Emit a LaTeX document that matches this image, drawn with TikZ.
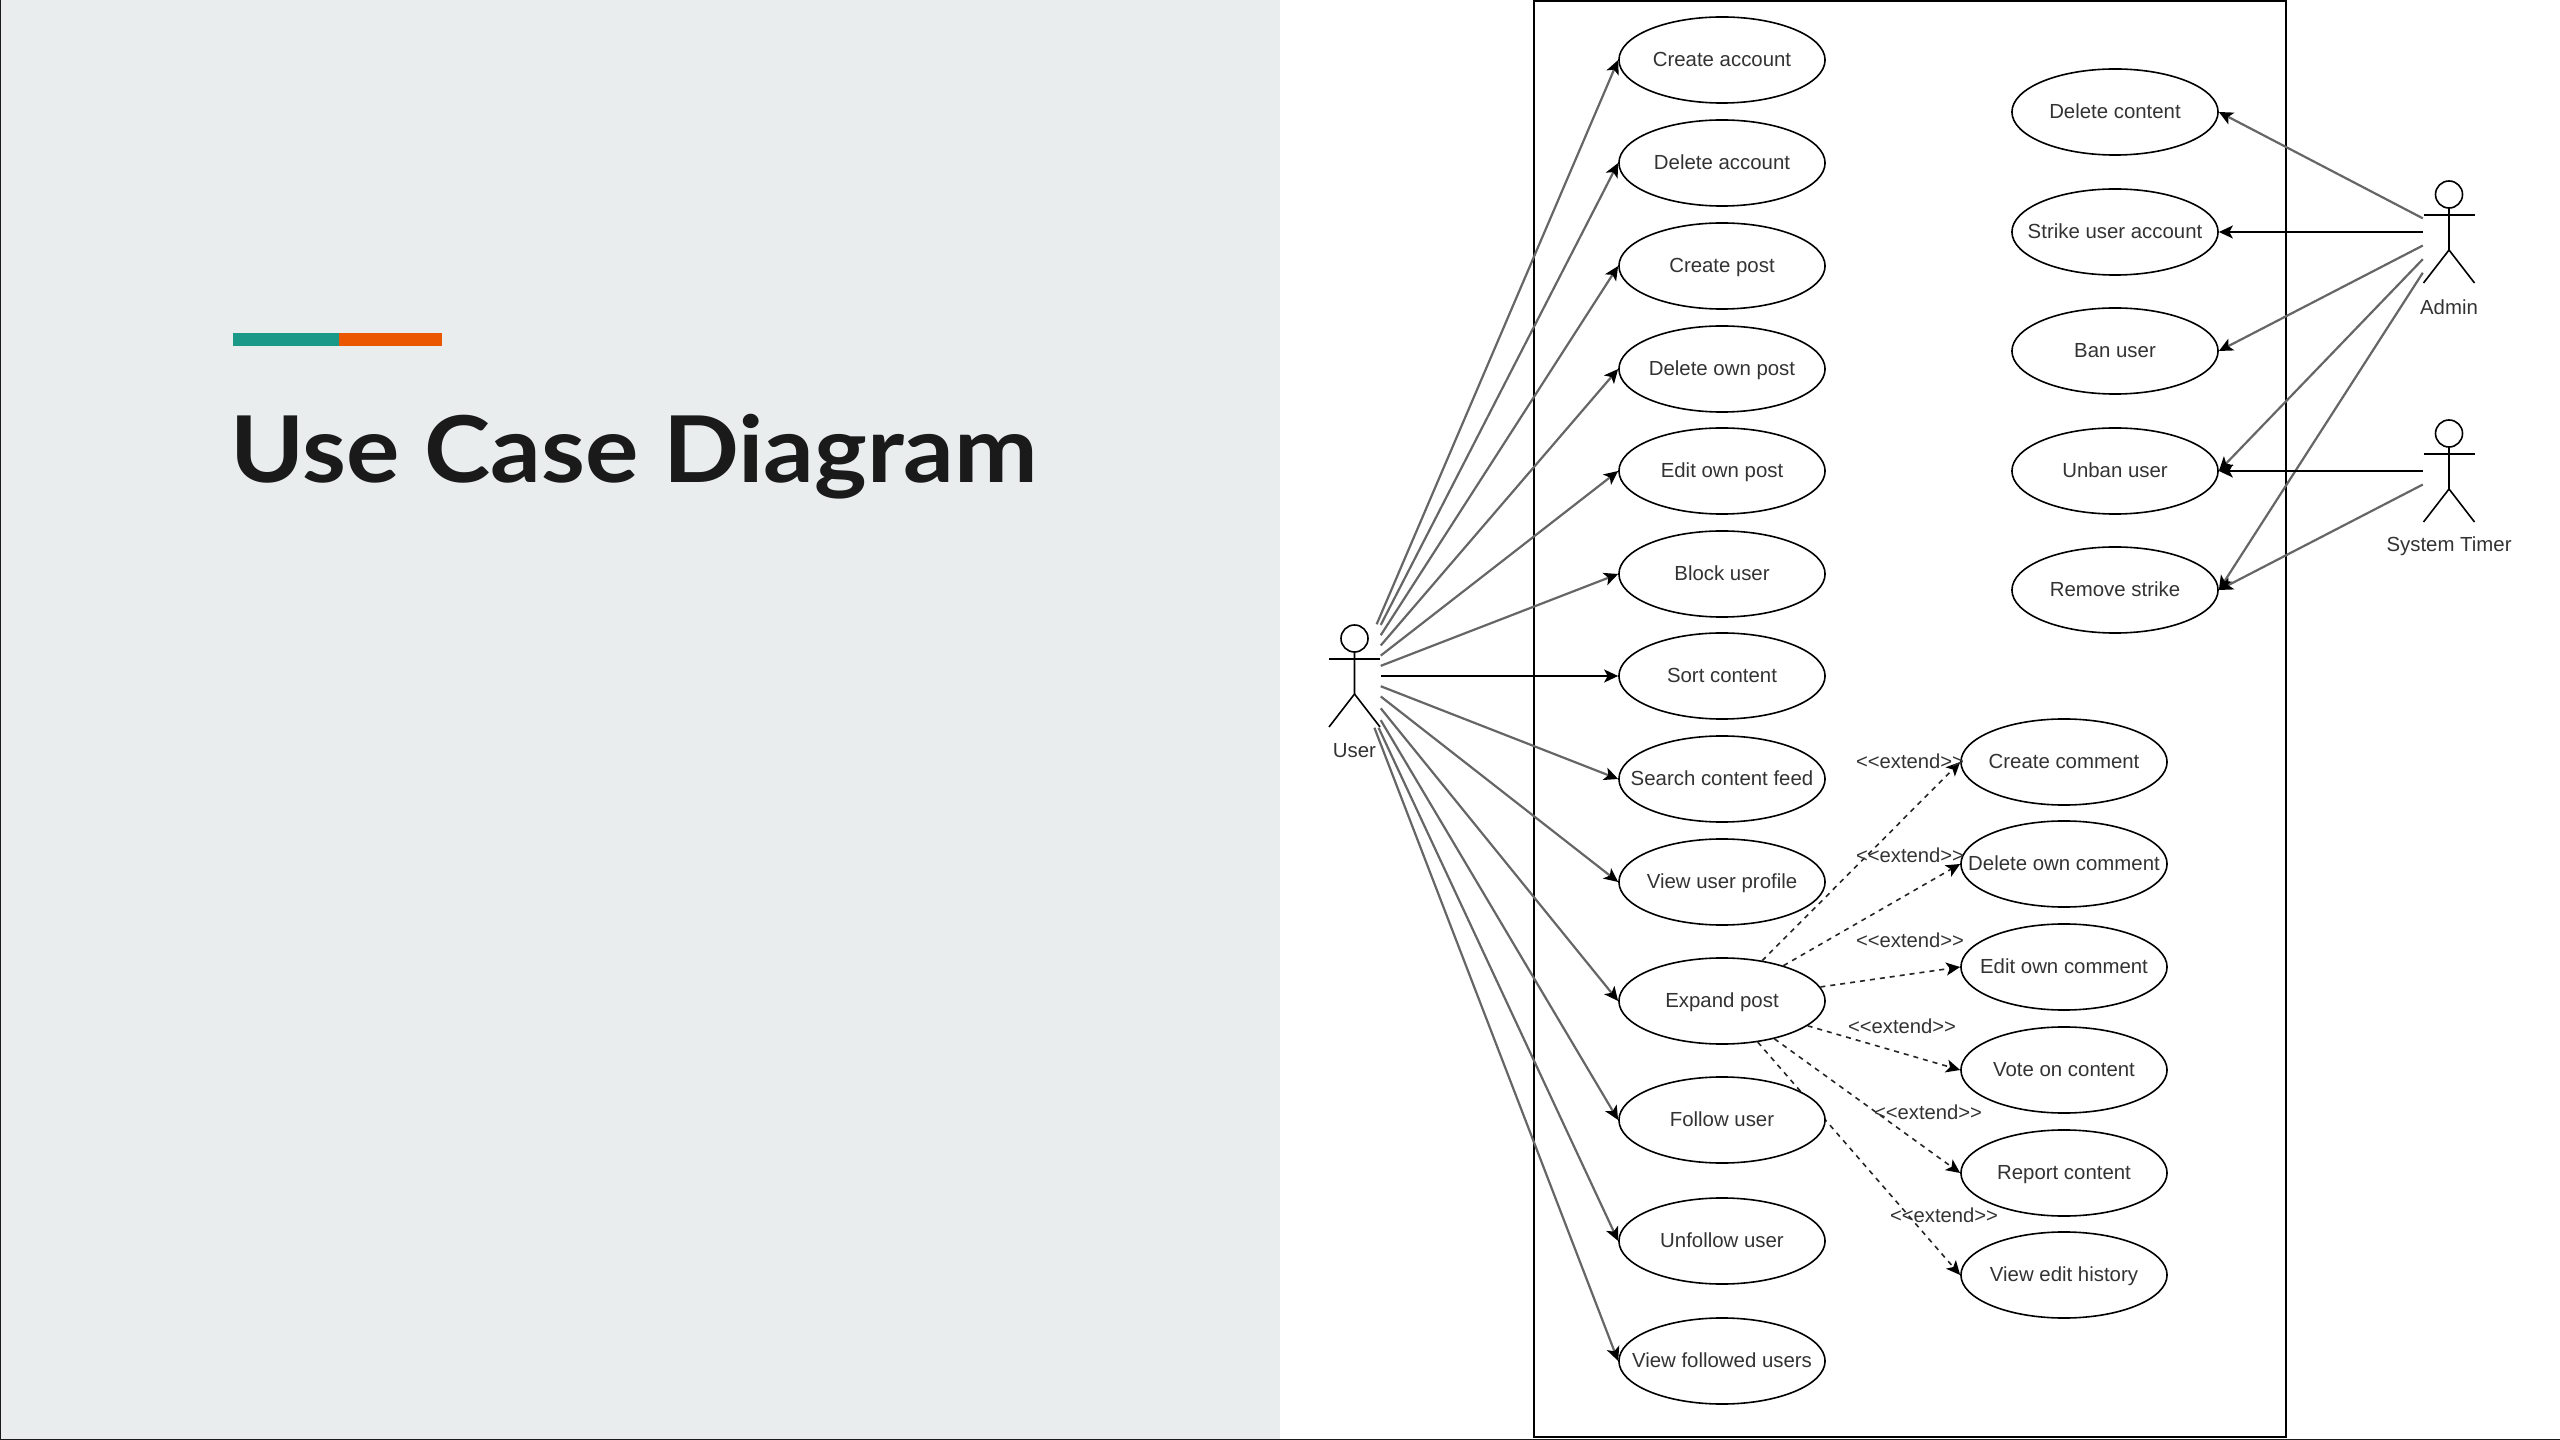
\documentclass[tikz,border=0pt]{standalone}
\usepackage{fontspec}
\setmainfont{Liberation Sans}
\newfontfamily\titlefont[FakeStretch=1.085]{Lato}
\usetikzlibrary{arrows.meta,shapes.geometric}
\definecolor{panelgray}{HTML}{E9EDEE}
\definecolor{barteal}{HTML}{1A9988}
\definecolor{barorange}{HTML}{EB5600}
\definecolor{titleink}{HTML}{1A1A1A}
\definecolor{textink}{HTML}{333333}
\newcommand{\extendword}{<{}<extend>{}>}
\tikzset{
	usecase/.style={draw, fill=white, ellipse, line width=0.016cm, minimum width=2.06cm, minimum height=0.86cm, inner xsep=-0.3cm, inner ysep=0pt, text height=4.64pt, text depth=1.04pt, font=\fontsize{5.8pt}{7pt}\selectfont, text=textink},
	actorbox/.style={minimum width=0.51cm, minimum height=1.02cm, inner sep=0pt},
	actortext/.style={inner sep=0pt, font=\fontsize{5.8pt}{7pt}\selectfont, text=textink},
	extendtext/.style={inner sep=0pt, font=\fontsize{5.75pt}{7pt}\selectfont, text=textink},
	assocflat/.style={line width=0.016cm, -{Stealth[length=0.14cm,width=0.13cm,inset=0.035cm,color=black]}},
	assoc/.style={assocflat, line width=0.022cm, draw=black!60},
	extendline/.style={assocflat, draw=black!85, dash pattern=on 0.05cm off 0.05cm},
}
\newcommand{\stickactor}[4]{%
	\begin{scope}[shift={(#2,#3)}]
		\node[actorbox] (#1) at (0,0) {};
		\draw[line width=0.016cm] (0,-37.5) circle (0.135cm);
		\draw[line width=0.016cm] (-25.5,-17) -- ++(51,0);
		\draw[line width=0.016cm] (0,-24) -- (0,18) -- (-25.5,51);
		\draw[line width=0.016cm] (0,18) -- (25.5,51);
		\node[actortext] (#1text) at (0,75) {#4};
	\end{scope}
}
\begin{document}
\begin{tikzpicture}[x=0.01cm,y=-0.01cm]
	\useasboundingbox (0,0) rectangle (2560,1440);
	% panel izquierdo
	\fill[panelgray] (0,0) rectangle (1280,1440);
	\draw[line width=0.012cm, titleink] (0.6,0) -- (0.6,1439.4) -- (2560,1439.4);
	\fill[barteal] (233,333) rectangle (339,346);
	\fill[barorange] (339,333) rectangle (442,346);
	\node[anchor=base west, inner sep=0pt, text=titleink, font=\titlefont\bfseries\fontsize{26.2pt}{30pt}\selectfont] (title) at (230,483) {Use Case Diagram};
	% limite del sistema
	\draw[line width=0.016cm] (1534,1) rectangle (2286,1437);
	% casos de uso del usuario
	\node[usecase] (createacc) at (1722,60) {Create account};
	\node[usecase] (deleteacc) at (1722,163) {Delete account};
	\node[usecase] (createpost) at (1722,266) {Create post};
	\node[usecase] (deletepost) at (1722,369) {Delete own post};
	\node[usecase] (editpost) at (1722,471) {Edit own post};
	\node[usecase] (blockuser) at (1722,574) {Block user};
	\node[usecase] (sortcontent) at (1722,676) {Sort content};
	\node[usecase] (searchfeed) at (1722,779) {Search content feed};
	\node[usecase] (viewprofile) at (1722,882) {View user profile};
	\node[usecase] (expandpost) at (1722,1001) {Expand post};
	\node[usecase] (unfollow) at (1722,1241) {Unfollow user};
	\node[usecase] (viewfollowed) at (1722,1361) {View followed users};
	% casos de uso del admin
	\node[usecase] (deletecontent) at (2115,112) {Delete content};
	\node[usecase] (strikeuser) at (2115,232) {Strike user account};
	\node[usecase] (banuser) at (2115,351) {Ban user};
	\node[usecase] (unbanuser) at (2115,471) {Unban user};
	\node[usecase] (removestrike) at (2115,590) {Remove strike};
	% casos de uso de comentarios
	\node[usecase] (createcomment) at (2064,762) {Create comment};
	\node[usecase] (deletecomment) at (2064,864) {Delete own comment};
	\node[usecase] (editcomment) at (2064,967) {Edit own comment};
	\node[usecase] (votecontent) at (2064,1070) {Vote on content};
	\node[usecase] (reportcontent) at (2064,1173) {Report content};
	\node[usecase] (edithistory) at (2064,1275) {View edit history};
	% actores
	\stickactor{user}{1354.5}{676}{User}
	\stickactor{admin}{2449}{232}{Admin}
	\stickactor{timer}{2449}{471}{System Timer}
	% extend
	\draw[extendline] (expandpost) -- (createcomment.west);
	\draw[extendline] (expandpost) -- (deletecomment.west);
	\draw[extendline] (expandpost) -- (editcomment.west);
	\draw[extendline] (expandpost) -- (votecontent.west);
	\draw[extendline] (expandpost) -- (reportcontent.west);
	\draw[extendline] (expandpost) -- (edithistory.west);
	\node[extendtext] (extendone) at (1910,761) {\extendword};
	\node[extendtext] (extendtwo) at (1910,855.5) {\extendword};
	\node[extendtext] (extendthree) at (1910,940) {\extendword};
	\node[extendtext] (extendfour) at (1902,1026) {\extendword};
	\node[extendtext] (extendfive) at (1928,1112) {\extendword};
	\node[extendtext] (extendsix) at (1944,1215) {\extendword};
	% tapa la linea punteada
	\node[usecase] (followuser) at (1722,1120) {Follow user};
	% lineas del usuario
	\draw[assoc] (user) -- (createacc.west);
	\draw[assoc] (user) -- (deleteacc.west);
	\draw[assoc] (user) -- (createpost.west);
	\draw[assoc] (user) -- (deletepost.west);
	\draw[assoc] (user) -- (editpost.west);
	\draw[assoc] (user) -- (blockuser.west);
	\draw[assocflat] (user) -- (sortcontent.west);
	\draw[assoc] (user) -- (searchfeed.west);
	\draw[assoc] (user) -- (viewprofile.west);
	\draw[assoc] (user) -- (expandpost.west);
	\draw[assoc] (user) -- (followuser.west);
	\draw[assoc] (user) -- (unfollow.west);
	\draw[assoc] (user) -- (viewfollowed.west);
	% lineas del admin y del timer
	\draw[assoc] (admin) -- (deletecontent.east);
	\draw[assocflat] (admin) -- (strikeuser.east);
	\draw[assoc] (admin) -- (banuser.east);
	\draw[assoc] (admin) -- (unbanuser.east);
	\draw[assoc] (admin) -- (removestrike.east);
	\draw[assocflat] (timer) -- (unbanuser.east);
	\draw[assoc] (timer) -- (removestrike.east);
\end{tikzpicture}
\end{document}
